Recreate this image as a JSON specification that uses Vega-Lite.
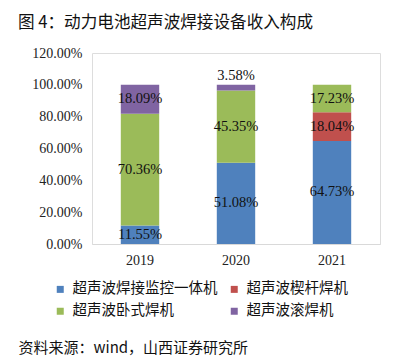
{
  "$schema": "https://vega.github.io/schema/vega-lite/v6.json",
  "width": 288,
  "height": 191,
  "autosize": {"type": "none"},
  "padding": {"left": 92, "top": 53, "right": 24, "bottom": 112},
  "background": "white",
  "config": {
    "axisY": {
      "title": null,
      "format": ".2%",
      "values": [0, 0.2, 0.4, 0.6, 0.8, 1.0, 1.2],
      "labelOverlap": false,
      "grid": false,
      "domain": false,
      "ticks": false,
      "labelPadding": 10,
      "labelFont": "Liberation Serif",
      "labelFontSize": 14,
      "labelColor": "#222222"
    }
  },
  "title": {
    "text": "图 4：动力电池超声波焊接设备收入构成",
    "anchor": "start",
    "frame": "group",
    "dx": -74,
    "offset": 14,
    "font": "Noto Sans CJK SC",
    "fontSize": 16.6,
    "fontWeight": "normal",
    "color": "#111111"
  },
  "data": {
    "values": [
      {"year": "2019", "type": "超声波焊接监控一体机", "value": 0.1155},
      {"year": "2019", "type": "超声波卧式焊机", "value": 0.7036},
      {"year": "2019", "type": "超声波滚焊机", "value": 0.1809},
      {"year": "2020", "type": "超声波焊接监控一体机", "value": 0.5108},
      {"year": "2020", "type": "超声波卧式焊机", "value": 0.4535},
      {"year": "2020", "type": "超声波滚焊机", "value": 0.0358},
      {"year": "2021", "type": "超声波焊接监控一体机", "value": 0.6473},
      {"year": "2021", "type": "超声波楔杆焊机", "value": 0.1804},
      {"year": "2021", "type": "超声波卧式焊机", "value": 0.1723}
    ]
  },
  "transform": [
    {"calculate": "indexof(['超声波焊接监控一体机','超声波楔杆焊机','超声波卧式焊机','超声波滚焊机'], datum.type)", "as": "ord"},
    {"stack": "value", "groupby": ["year"], "sort": [{"field": "ord", "order": "ascending"}], "as": ["v0", "v1"]},
    {"calculate": "(datum.v0 + datum.v1) / 2", "as": "mid"}
  ],
  "encoding": {
    "x": {
      "field": "year",
      "type": "nominal",
      "scale": {"paddingInner": 0, "paddingOuter": 0},
      "axis": {
        "labelAngle": 0,
        "ticks": false,
        "domainColor": "#d9d9d9",
        "labelFont": "Liberation Serif",
        "labelFontSize": 14,
        "labelColor": "#222222",
        "labelPadding": 9,
        "title": "资料来源：wind，山西证券研究所",
        "titleX": -74,
        "titleY": 96,
        "titleAlign": "left",
        "titleAnchor": "start",
        "titleBaseline": "top",
        "titleFont": "Noto Sans CJK SC",
        "titleFontSize": 15,
        "titleFontWeight": "normal",
        "titleColor": "#111111"
      }
    }
  },
  "layer": [
    {
      "mark": {"type": "bar", "width": {"band": 0.4}},
      "encoding": {
        "y": {
          "field": "v1",
          "type": "quantitative",
          "scale": {"domain": [0, 1.2], "nice": false},
          "axis": {"title": null, "format": ".2%", "labelOverlap": false, "values": [0, 0.2, 0.4, 0.6, 0.8, 1.0, 1.2]}
        },
        "y2": {"field": "v0"},
        "color": {
          "field": "type",
          "type": "nominal",
          "scale": {
            "domain": ["超声波焊接监控一体机", "超声波卧式焊机", "超声波楔杆焊机", "超声波滚焊机"],
            "range": ["#4F81BD", "#9BBB59", "#C0504D", "#8064A2"]
          },
          "legend": {
            "orient": "none",
            "legendX": -39,
            "legendY": 229,
            "columns": 2,
            "title": null,
            "padding": 0,
            "symbolType": "square",
            "symbolSize": 49,
            "symbolStrokeWidth": 0,
            "labelFont": "Noto Sans CJK SC",
            "labelFontSize": 14.5,
            "labelColor": "#111111",
            "labelOffset": 5,
            "labelLimit": 300,
            "columnPadding": 9,
            "rowPadding": 7
          }
        }
      }
    },
    {
      "transform": [{"filter": "datum.value >= 0.05"}],
      "mark": {"type": "text", "font": "Liberation Serif", "fontSize": 14.5, "color": "#111111", "baseline": "middle"},
      "encoding": {
        "y": {"field": "mid", "type": "quantitative", "axis": {"title": null, "format": ".2%", "labelOverlap": false, "values": [0, 0.2, 0.4, 0.6, 0.8, 1.0, 1.2]}},
        "text": {"field": "value", "type": "quantitative", "format": ".2%"}
      }
    },
    {
      "transform": [{"filter": "datum.value < 0.05"}],
      "mark": {"type": "text", "font": "Liberation Serif", "fontSize": 14.5, "color": "#111111", "baseline": "middle", "dy": -9},
      "encoding": {
        "y": {"field": "v1", "type": "quantitative", "axis": {"title": null, "format": ".2%", "labelOverlap": false, "values": [0, 0.2, 0.4, 0.6, 0.8, 1.0, 1.2]}},
        "text": {"field": "value", "type": "quantitative", "format": ".2%"}
      }
    }
  ]
}
